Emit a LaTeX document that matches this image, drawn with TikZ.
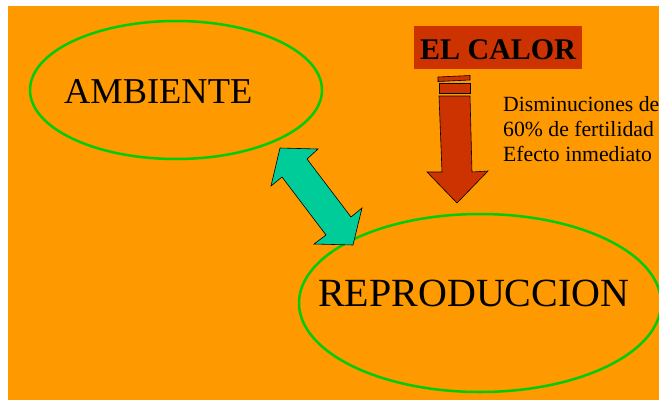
\documentclass[tikz,border=0pt]{standalone}
\usepackage{fontspec}
\setmainfont{Liberation Serif}
\definecolor{bgorange}{HTML}{FF9900}
\definecolor{ringgreen}{HTML}{00CC00}
\definecolor{heatred}{HTML}{CC3300}
\definecolor{arrowteal}{HTML}{00CC99}
\begin{document}
\begin{tikzpicture}[x=1pt,y=-1pt,
  ring/.style={draw=ringgreen,line width=2.5pt},
  bigtext/.style={inner sep=0pt,text=black},
  smalltext/.style={inner sep=0pt,anchor=base west,font=\fontsize{21.7}{25}\selectfont},
  shapeline/.style={draw=black,line width=0.6pt,line join=miter}]
\useasboundingbox (0,0) rectangle (659,400);
\clip (0,0) rectangle (659,400);
\fill[white] (0,0) rectangle (659,400);
\fill[bgorange] (8,6) rectangle (659,400);
% ellipses
\draw[ring] (176,90) ellipse [x radius=146, y radius=69];
\draw[ring] (480,303) ellipse [x radius=181, y radius=89];
% texts in ellipses
\node[bigtext,anchor=base west,font=\fontsize{36.4}{40}\selectfont] (amb) at (64,103) {AMBIENTE};
\node[bigtext,anchor=base west,font=\fontsize{40}{44}\selectfont] (rep) at (318,306) {REPRODUCCION};
% EL CALOR box
\fill[heatred] (414,26) rectangle (582,69);
\node[bigtext,anchor=base,font=\fontsize{30}{34}\selectfont\bfseries] (calor) at (498,59) {EL CALOR};
% striped arrow
\filldraw[shapeline,fill=heatred] (438,77) -- (470,75.5) -- (470,80) -- (438,81.5) -- cycle;
\filldraw[shapeline,fill=heatred] (439,83) -- (470,83) -- (470,93) -- (439,93) -- cycle;
\filldraw[shapeline,fill=heatred] (439,96) -- (470,96) -- (472,172) -- (488,171) -- (457,203) -- (427,172) -- (442,172) -- cycle;
% side text
\node[smalltext] (t1) at (503,111) {Disminuciones de};
\node[smalltext] (t2) at (503,136) {60\% de fertilidad};
\node[smalltext] (t3) at (503,161) {Efecto inmediato};
% double arrow
\filldraw[shapeline,fill=arrowteal] (280,148) -- (318,149) -- (307,159) -- (351,217) -- (362,208) -- (353,245) -- (314,244) -- (326,235) -- (282,177) -- (271,186) -- cycle;
\end{tikzpicture}
\end{document}
